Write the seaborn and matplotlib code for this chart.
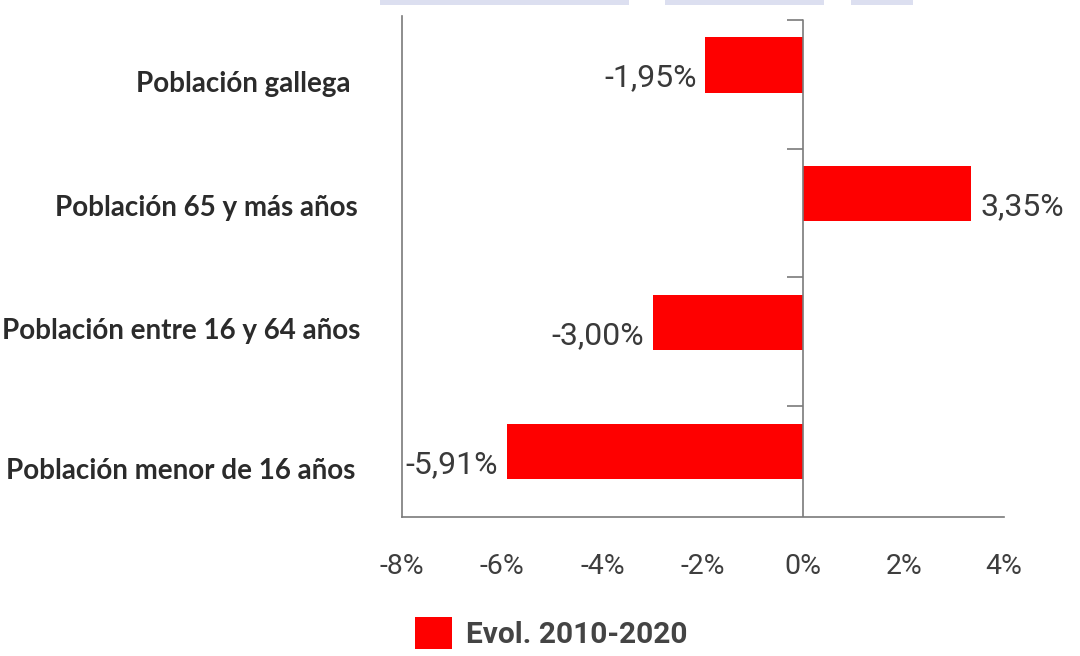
import matplotlib
matplotlib.use("Agg")
import matplotlib.pyplot as plt
import matplotlib.transforms as mtransforms
from matplotlib.patches import Patch, Rectangle
import pandas as pd
import seaborn as sns

# Evolución de la población gallega por grupos de edad, 2010-2020 (%)
categories = [
    "Población gallega",
    "Población 65 y más años",
    "Población entre 16 y 64 años",
    "Población menor de 16 años",
]
evolucion = [-1.95, 3.35, -3.00, -5.91]
value_labels = ["-1,95%", "3,35%", "-3,00%", "-5,91%"]
x_ticks = [-8, -6, -4, -2, 0, 2, 4]
x_tick_labels = ["-8%", "-6%", "-4%", "-2%", "0%", "2%", "4%"]
series_name = "Evol. 2010-2020"

df = pd.DataFrame({"categoria": categories, "evolucion": evolucion})

RED = "#fe0000"
AXIS_GREY = "#7a7a7a"

sns.set_theme(style="white")
plt.rcParams["font.family"] = ["Roboto", "DejaVu Sans"]

fig = plt.figure(figsize=(10.8, 6.56), dpi=100)
fig.patch.set_facecolor("white")
ax = fig.add_axes([0.3722, 0.2119, 0.5574, 0.7637])

sns.barplot(
    data=df, y="categoria", x="evolucion", orient="h",
    color=RED, saturation=1, width=0.43, label=series_name,
    edgecolor="none", linewidth=0, ax=ax,
)

ax.set_xlim(-8, 4)
ax.set_ylim(3.51, -0.38)
ax.set_xlabel("")
ax.set_ylabel("")

# frame: left and bottom only
for side in ("top", "right"):
    ax.spines[side].set_visible(False)
for side in ("left", "bottom"):
    ax.spines[side].set_color(AXIS_GREY)
    ax.spines[side].set_linewidth(1.2)

# vertical zero line with short category marks
ax.axvline(0, ymin=0, ymax=0.992, color=AXIS_GREY, lw=1.2, zorder=3)
ax.hlines([i - 0.35 for i in range(len(categories))], -0.32, 0,
          color=AXIS_GREY, lw=1.2, zorder=3)

# x axis
ax.set_xticks(x_ticks, x_tick_labels)
ax.tick_params(axis="x", direction="in", length=14, width=1.2,
               color=AXIS_GREY, pad=26, labelsize=20.5, labelcolor="#3e3e3e")

# category labels
ax.tick_params(axis="y", length=0, pad=32)
label_shift = [(-7, -17), (0, -12), (3, -6), (-2, -17)]
for lbl, (dx, dy) in zip(ax.get_yticklabels(), label_shift):
    lbl.set_fontfamily(["Lato", "DejaVu Sans"])
    lbl.set_fontweight("bold")
    lbl.set_fontsize(20)
    lbl.set_color("#2b2b2b")
    lbl.set_transform(lbl.get_transform()
                      + mtransforms.ScaledTranslation(dx / 100, dy / 100, fig.dpi_scale_trans))

# value labels beside each bar
for i, (v, txt) in enumerate(zip(evolucion, value_labels)):
    tr = mtransforms.offset_copy(ax.transData, fig=fig,
                                 x=(-9 if v < 0 else 9), y=-13, units="dots")
    ax.text(v, i, txt, transform=tr, ha="right" if v < 0 else "left",
            va="center", fontsize=23, color="#3a3a3a")

# legend below the chart
leg = fig.legend(
    [Patch(facecolor=RED, edgecolor="none")], [series_name],
    loc="center left", bbox_to_anchor=(415 / 1080, 1 - 633 / 656),
    frameon=False, handlelength=1.25, handleheight=1.25,
    handletextpad=0.45, borderpad=0, borderaxespad=0,
    prop=dict(family=["Roboto", "DejaVu Sans"], weight="bold", size=21.5),
)
for t in leg.get_texts():
    t.set_color("#444444")
if ax.get_legend() is not None:
    ax.get_legend().remove()

# pale header band along the top edge
for x0, x1 in [(380, 629), (665, 824), (851, 913)]:
    fig.add_artist(Rectangle((x0 / 1080, 1 - 5 / 656), (x1 - x0) / 1080, 5 / 656,
                             transform=fig.transFigure, color="#dcdff0", lw=0))

fig.savefig("out.png", dpi=100, facecolor="white")
